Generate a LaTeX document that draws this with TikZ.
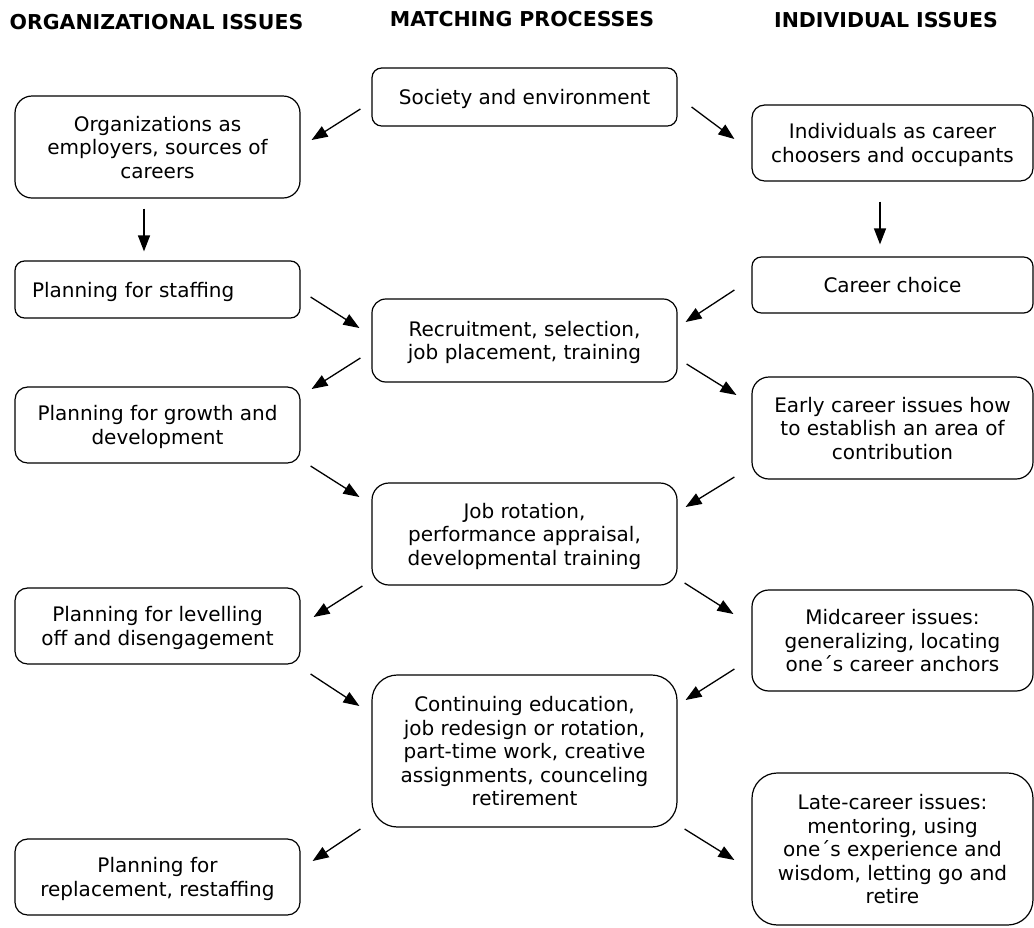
\documentclass[tikz,border=0pt]{standalone}
\usepackage{fontspec}
\setmainfont{DejaVu Sans}
\usetikzlibrary{arrows.meta, calc}
\tikzstyle{baseBox}      = [rectangle, 
                            text centered, 
                            align=center,
                            inner xsep=17pt,
                            text depth=0pt,
                            draw=black, 
                            line width=1.2pt,
                            font=\fontsize{20}{23.5}\selectfont]
\tikzstyle{orgIssue}     = [baseBox, 
                            minimum width=285pt]
\tikzstyle{matchProcess} = [baseBox, 
                            minimum width=305pt]
\tikzstyle{indivIssue}   = [baseBox, 
                            minimum width=281pt]
\tikzstyle{columnHead}   = [font=\fontsize{20.5}{24}\selectfont\bfseries]
\tikzstyle{arrow}        = [line width=1.3pt, -{Triangle[length=16pt, width=12pt]}]
\tikzset{boxHeight/.style={minimum height=#1, rounded corners=#1/6}}

\begin{document}
\begin{tikzpicture}[x=1pt, y=-1pt]
\useasboundingbox (0,0) rectangle (1034,927);

\node [columnHead] (orgHead)   at (156.5,22) {ORGANIZATIONAL ISSUES};
\node [columnHead] (matchHead) at (522,19.5) {MATCHING PROCESSES};
\node [columnHead] (indivHead) at (886,20)   {INDIVIDUAL ISSUES};

\node [matchProcess, boxHeight=58] (Society) at (524.5,97) {Society and environment};
\node [matchProcess, boxHeight=83]  (Recruit) at ([shift={(0,243.5)}] Society) {
    Recruitment, selection, \\ job placement, training};
\node [matchProcess, boxHeight=102] (Rotation) at ([shift={(0,193.5)}] Recruit) {
    Job rotation, \\ performance appraisal, \\ developmental training};
\node [matchProcess, boxHeight=152] (Continuing) at ([shift={(0,217)}] Rotation) {
    Continuing education, \\ job redesign or rotation, \\ part-time work, creative \\
    assignments, counceling \\ retirement};

\node [orgIssue, boxHeight=102] (Employers) at ([shift={(-367,50)}] Society) {
    Organizations as \\ employers, sources of \\ careers};
\node [orgIssue, boxHeight=57, align=left, text width=251pt] (Staffing) at ([shift={(0,142.5)}] Employers) {
    Planning for staffing};
\node [orgIssue, boxHeight=76] (Growth) at ([shift={(0,135.5)}] Staffing) {
    Planning for growth and \\ development};
\node [orgIssue, boxHeight=76] (Levelling) at ([shift={(0,201)}] Growth) {
    Planning for levelling \\ off and disengagement};
\node [orgIssue, boxHeight=76] (Replacement) at ([shift={(0,251)}] Levelling) {
    Planning for \\ replacement, restaffing};

\node [indivIssue, boxHeight=76] (Choosers) at ([shift={(368,46)}] Society) {
    Individuals as career \\ choosers and occupants};
\node [indivIssue, boxHeight=56] (Choice) at ([shift={(0,142)}] Choosers) {
    Career choice};
\node [indivIssue, boxHeight=102] (Early) at ([shift={(0,143)}] Choice) {
    Early career issues how \\ to establish an area of \\ contribution};
\node [indivIssue, boxHeight=101] (Mid) at ([shift={(0,212.5)}] Early) {
    Midcareer issues: \\ generalizing, locating \\ one´s career anchors};
\node [indivIssue, boxHeight=152] (Late) at ([shift={(0,208.5)}] Mid) {
    Late-career issues: \\ mentoring, using \\ one´s experience and \\
    wisdom, letting go and \\ retire};

\draw [arrow] ([shift={(-11,12)}] Society.west) -- ([shift={(11,-7)}] Employers.east);
\draw [arrow] ([shift={(14,10)}] Society.east) -- ([shift={(-17,-4)}] Choosers.west);

\draw [arrow] ([shift={(-13.5,10)}] Employers.south) -- ([shift={(-13.5,-9)}] Staffing.north);
\draw [arrow] ([shift={(-12.5,20)}] Choosers.south) -- ([shift={(-12.5,-12)}] Choice.north);

\draw [arrow] ([shift={(10,7.5)}] Staffing.east) -- ([shift={(-12,-12.5)}] Recruit.west);
\draw [arrow] ([shift={(-17,5)}] Choice.west) -- ([shift={(8,-18.5)}] Recruit.east);
\draw [arrow] ([shift={(-11,17.5)}] Recruit.west) -- ([shift={(11,-36)}] Growth.east);
\draw [arrow] ([shift={(9,23.5)}] Recruit.east) -- ([shift={(-15,-33)}] Early.west);

\draw [arrow] ([shift={(10,41)}] Growth.east) -- ([shift={(-12,-37)}] Rotation.west);
\draw [arrow] ([shift={(-17,49)}] Early.west) -- ([shift={(8,-27)}] Rotation.east);
\draw [arrow] ([shift={(-9,52)}] Rotation.west) -- ([shift={(13,-9)}] Levelling.east);
\draw [arrow] ([shift={(7,49)}] Rotation.east) -- ([shift={(-18,-26.5)}] Mid.west);

\draw [arrow] ([shift={(10,48)}] Levelling.east) -- ([shift={(-12,-45)}] Continuing.west);
\draw [arrow] ([shift={(-17,28.5)}] Mid.west) -- ([shift={(8,-51)}] Continuing.east);
\draw [arrow] ([shift={(-11,78)}] Continuing.west) -- ([shift={(12,-16)}] Replacement.east);
\draw [arrow] ([shift={(7,78)}] Continuing.east) -- ([shift={(-17,11)}] Late.west);

\end{tikzpicture}
\end{document}
